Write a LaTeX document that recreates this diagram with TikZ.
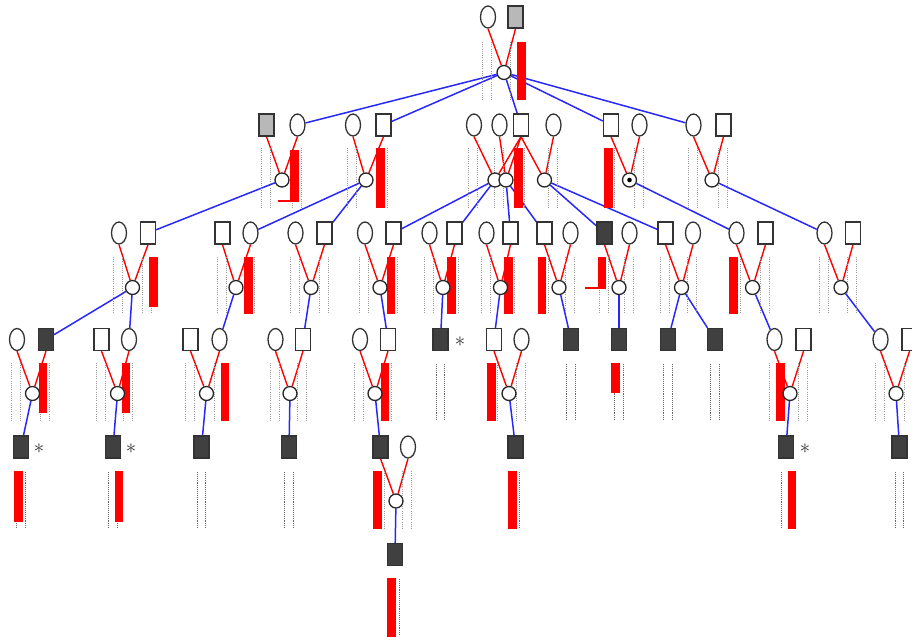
\documentclass[tikz,border=0pt]{standalone}
\usetikzlibrary{shapes.geometric}
\pgfdeclarelayer{lines}
\pgfdeclarelayer{haps}
\pgfsetlayers{lines,haps,main}
\definecolor{linkblue}{RGB}{40,40,250}
\tikzset{
  fem/.style={ellipse, draw=black!80, line width=1.3pt, fill=white, minimum width=15pt, minimum height=22pt, inner sep=0pt},
  mal/.style={rectangle, draw=black!80, line width=1.3pt, fill=white, minimum width=15pt, minimum height=22pt, inner sep=0pt},
  aff/.style={mal, fill=black!75},
  gry/.style={mal, fill=black!28},
  mate/.style={circle, draw=black!85, line width=1.3pt, fill=white, minimum size=14pt, inner sep=0pt},
  blu/.style={linkblue, line width=1.5pt},
  rd/.style={red, line width=1.4pt},
  hcol/.style={black!40, line width=0.6pt, dash pattern=on 0.6pt off 1.6pt},
  lcol/.style={black!60, line width=0.8pt, dash pattern=on 1pt off 0.9pt},
  bar/.style={fill=red},
  astx/.style={font=\huge, inner sep=0pt, text=black!80}
}
\begin{document}
\begin{tikzpicture}[x=1pt,y=-1pt]
\useasboundingbox (0,0) rectangle (912,641);
% ---------- generation 1
\node[fem] (g1f) at (488,17) {};
\node[gry] (g1m) at (515.5,17) {};
\node[mate] (c1) at (504,72.5) {};
% ---------- generation 2
\node[gry] (am) at (266.5,125) {};
\node[fem] (af) at (297.5,125) {};
\node[mate] (c2a) at (282,180) {};
\node[fem] (bf) at (353,125) {};
\node[mal] (bm) at (383.5,125) {};
\node[mate] (c2b) at (366,180) {};
\node[fem] (df1) at (474,125) {};
\node[fem] (df2) at (499.5,125) {};
\node[mal] (dm) at (521,125) {};
\node[fem] (df3) at (553.5,125) {};
\node[mate] (c2d1) at (495,180) {};
\node[mate] (c2d2) at (506,180) {};
\node[mate] (c2d3) at (544.5,180) {};
\node[mal] (em) at (611,125) {};
\node[fem] (ef) at (639.5,125) {};
\node[mate] (c2e) at (629.5,180) {};
\fill (c2e) circle (2.3pt);
\node[fem] (ff) at (693.5,125) {};
\node[mal] (fm) at (723.5,125) {};
\node[mate] (c2f) at (712,180) {};
% ---------- generation 3
\node[fem] (h1f) at (119,233) {};
\node[mal] (h1m) at (148,233) {};
\node[mate] (c3a) at (132.5,287.5) {};
\node[mal] (h2m) at (222.5,233) {};
\node[fem] (h2f) at (250.5,233) {};
\node[mate] (c3b) at (236,287.5) {};
\node[fem] (h3f) at (295.5,233) {};
\node[mal] (h3m) at (324.5,233) {};
\node[mate] (c3c) at (311,287.5) {};
\node[fem] (h4f) at (365,233) {};
\node[mal] (h4m) at (393.5,233) {};
\node[mate] (c3d) at (380,287.5) {};
\node[fem] (h5f) at (429.5,233) {};
\node[mal] (h5m) at (454.5,233) {};
\node[mate] (c3e) at (443,287.5) {};
\node[fem] (h6f) at (486.5,233) {};
\node[mal] (h6m) at (510.5,233) {};
\node[mate] (c3f) at (500.5,287.5) {};
\node[mal] (h7m) at (544.5,233) {};
\node[fem] (h7f) at (570.5,233) {};
\node[mate] (c3g) at (559,287.5) {};
\node[aff] (h8m) at (604.5,233) {};
\node[fem] (h8f) at (629.5,233) {};
\node[mate] (c3h) at (619,287.5) {};
\node[mal] (h9m) at (665.5,233) {};
\node[fem] (h9f) at (693,233) {};
\node[mate] (c3i) at (681.5,287.5) {};
\node[fem] (h10f) at (736.5,233) {};
\node[mal] (h10m) at (765.5,233) {};
\node[mate] (c3j) at (752.5,287.5) {};
\node[fem] (h11f) at (824.5,233) {};
\node[mal] (h11m) at (853,233) {};
\node[mate] (c3k) at (841,287.5) {};
% ---------- generation 4
\node[fem] (k1f) at (17,339.5) {};
\node[aff] (k1m) at (46,339.5) {};
\node[mate] (c4a) at (32.5,393.5) {};
\node[mal] (k2m) at (101.5,339.5) {};
\node[fem] (k2f) at (129,339.5) {};
\node[mate] (c4b) at (117.5,393.5) {};
\node[mal] (k3m) at (190.5,339.5) {};
\node[fem] (k3f) at (219.5,339.5) {};
\node[mate] (c4c) at (206.5,393.5) {};
\node[fem] (k4f) at (275.5,339.5) {};
\node[mal] (k4m) at (303,339.5) {};
\node[mate] (c4d) at (290,393.5) {};
\node[fem] (k5f) at (360,339.5) {};
\node[mal] (k5m) at (388,339.5) {};
\node[mate] (c4e) at (375,393.5) {};
\node[aff] (k6) at (440.5,339.5) {};
\node[astx] (ast1) at (460,342) {$\ast$};
\node[mal] (k7m) at (494,339.5) {};
\node[fem] (k7f) at (521.5,339.5) {};
\node[mate] (c4f) at (509,393.5) {};
\node[aff] (k8) at (571,339.5) {};
\node[aff] (k9) at (619,339.5) {};
\node[aff] (k10) at (668,339.5) {};
\node[aff] (k11) at (715,339.5) {};
\node[fem] (k12f) at (774.5,339.5) {};
\node[mal] (k12m) at (803.5,339.5) {};
\node[mate] (c4g) at (790,393.5) {};
\node[fem] (k13f) at (880.5,339.5) {};
\node[mal] (k13m) at (909.5,339.5) {};
\node[mate] (c4h) at (896,393.5) {};
% ---------- generation 5
\node[aff] (m1) at (21,447) {};
\node[astx] (ast2) at (39,449) {$\ast$};
\node[aff] (m2) at (113,447) {};
\node[astx] (ast3) at (131,449) {$\ast$};
\node[aff] (m3) at (201.5,447) {};
\node[aff] (m4) at (289,447) {};
\node[aff] (m5) at (380.5,447) {};
\node[fem] (m5f) at (408,447) {};
\node[mate] (c5) at (396,501) {};
\node[aff] (m6) at (515.5,447) {};
\node[aff] (m7) at (786,447) {};
\node[astx] (ast4) at (805,449) {$\ast$};
\node[aff] (m8) at (899.5,447) {};
% ---------- generation 6
\node[aff] (n1) at (395,554.5) {};

% ---------- connectors
\begin{pgfonlayer}{lines}
\foreach \c in {af,bm,dm,em,ff} \draw[blu] (c1) -- (\c);
\draw[blu] (c2a) -- (h1m);
\draw[blu] (c2b) -- (h2f);
\draw[blu] (c2b) -- (h3m);
\draw[blu] (c2d1) -- (h4m);
\draw[blu] (c2d1) -- (h5m);
\draw[blu] (c2d2) -- (h6m);
\draw[blu] (c2d2) -- (h7m);
\draw[blu] (c2d3) -- (h8m);
\draw[blu] (c2d3) -- (h9m);
\draw[blu] (c2e) -- (h10f);
\draw[blu] (c2f) -- (h11f);
\draw[blu] (c3a) -- (k1m);
\draw[blu] (c3a) -- (k2f);
\draw[blu] (c3b) -- (k3f);
\draw[blu] (c3c) -- (k4m);
\draw[blu] (c3d) -- (k5m);
\draw[blu] (c3e) -- (k6);
\draw[blu] (c3f) -- (k7m);
\draw[blu] (c3g) -- (k8);
\draw[blu] (c3h) -- (k9);
\draw[blu] (c3i) -- (k10);
\draw[blu] (c3i) -- (k11);
\draw[blu] (c3j) -- (k12f);
\draw[blu] (c3k) -- (k13f);
\draw[blu] (c4a) -- (m1);
\draw[blu] (c4b) -- (m2);
\draw[blu] (c4c) -- (m3);
\draw[blu] (c4d) -- (m4);
\draw[blu] (c4e) -- (m5);
\draw[blu] (c4f) -- (m6);
\draw[blu] (c4g) -- (m7);
\draw[blu] (c4h) -- (m8);
\draw[blu] (c5) -- (n1);
% red parent lines
\foreach \p/\c in {g1f/c1,g1m/c1,am/c2a,af/c2a,bf/c2b,bm/c2b,df1/c2d1,dm/c2d1,df2/c2d2,dm/c2d2,dm/c2d3,df3/c2d3,em/c2e,ef/c2e,ff/c2f,fm/c2f,
  h1f/c3a,h1m/c3a,h2m/c3b,h2f/c3b,h3f/c3c,h3m/c3c,h4f/c3d,h4m/c3d,h5f/c3e,h5m/c3e,h6f/c3f,h6m/c3f,h7m/c3g,h7f/c3g,h8m/c3h,h8f/c3h,h9m/c3i,h9f/c3i,h10f/c3j,h10m/c3j,h11f/c3k,h11m/c3k,
  k1f/c4a,k1m/c4a,k2m/c4b,k2f/c4b,k3m/c4c,k3f/c4c,k4f/c4d,k4m/c4d,k5f/c4e,k5m/c4e,k7m/c4f,k7f/c4f,k12f/c4g,k12m/c4g,k13f/c4h,k13m/c4h,m5/c5,m5f/c5}
  \draw[rd] (\p.south) -- (\c);
\end{pgfonlayer}

% ---------- haplotype columns and bars
\begin{pgfonlayer}{haps}
\foreach \x in {488,515.5} {\draw[hcol] (\x-5.5,42) -- (\x-5.5,100); \draw[hcol] (\x+3.5,42) -- (\x+3.5,100);}
\foreach \x in {266.5,297.5,353,383.5,474,499.5,521,553.5,611,639.5,693.5,723.5}
  {\draw[hcol] (\x-5.5,148) -- (\x-5.5,208); \draw[hcol] (\x+3.5,148) -- (\x+3.5,208);}
\foreach \x in {119,148,222.5,250.5,295.5,324.5,365,393.5,429.5,454.5,486.5,510.5,544.5,570.5,604.5,629.5,665.5,693,736.5,765.5,824.5,853}
  {\draw[hcol] (\x-5.5,257) -- (\x-5.5,314); \draw[hcol] (\x+3.5,257) -- (\x+3.5,314);}
\foreach \x in {17,46,101.5,129,190.5,219.5,275.5,303,360,388,494,521.5,774.5,803.5,880.5,909.5}
  {\draw[hcol] (\x-5.5,363) -- (\x-5.5,421); \draw[hcol] (\x+3.5,363) -- (\x+3.5,421);}
\foreach \x in {380.5,408}
  {\draw[hcol] (\x-5.5,471) -- (\x-5.5,529); \draw[hcol] (\x+3.5,471) -- (\x+3.5,529);}
\foreach \x in {440.5,571,619,668,715}
  {\draw[lcol] (\x-4.5,364) -- (\x-4.5,420); \draw[lcol] (\x+4,364) -- (\x+4,420);}
\foreach \x in {21,113,201.5,289,515.5,786,899.5}
  {\draw[lcol] (\x-4.5,472) -- (\x-4.5,528); \draw[lcol] (\x+4,472) -- (\x+4,528);}
\draw[lcol] (390.5,579) -- (390.5,636); \draw[lcol] (399,579) -- (399,636);
% red bars
\fill[bar] (517,42) rectangle (526,100);
\fill[bar] (290,150) rectangle (299,200);
\draw[rd] (278,201) -- (299,201);
\fill[bar] (376,148) rectangle (385,208);
\fill[bar] (514,148) rectangle (523,208);
\fill[bar] (604,148) rectangle (613,208);
\fill[bar] (149,257) rectangle (158,307);
\fill[bar] (244,257) rectangle (253,314);
\fill[bar] (387,257) rectangle (395,314);
\fill[bar] (447,257) rectangle (456,314);
\fill[bar] (504,257) rectangle (513,314);
\fill[bar] (538,257) rectangle (546,314);
\fill[bar] (598,257) rectangle (606,288);
\draw[rd] (585,288) -- (606,288);
\fill[bar] (729,257) rectangle (738,314);
\fill[bar] (39,363) rectangle (47,413);
\fill[bar] (122,363) rectangle (130,413);
\fill[bar] (221,363) rectangle (229,421);
\fill[bar] (381,363) rectangle (389,421);
\fill[bar] (487,363) rectangle (496,421);
\fill[bar] (611,363) rectangle (620,393);
\fill[bar] (776,363) rectangle (785,421);
\fill[bar] (14,471) rectangle (23,522);
\fill[bar] (115,471) rectangle (123,522);
\fill[bar] (373,471) rectangle (382,529);
\fill[bar] (508,471) rectangle (517,529);
\fill[bar] (788,471) rectangle (796,529);
\fill[bar] (387,578) rectangle (396,637);
\end{pgfonlayer}
\end{tikzpicture}
\end{document}
